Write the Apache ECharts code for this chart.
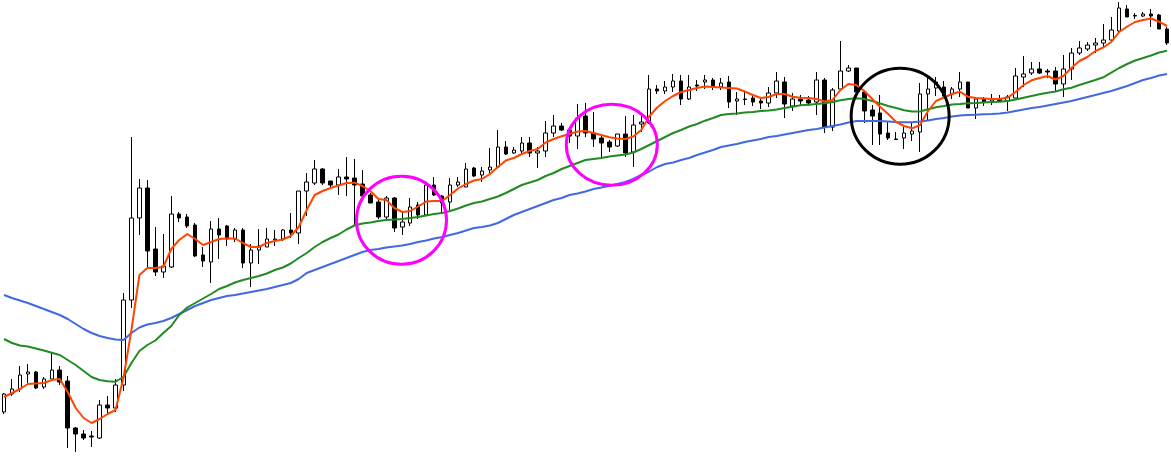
<!DOCTYPE html>
<html>
<head>
<meta charset="utf-8">
<script src="https://cdn.jsdelivr.net/npm/echarts@6/dist/echarts.min.js"></script>
<style>html,body{margin:0;padding:0;background:#fff;}#c{width:1171px;height:463px;}</style>
</head>
<body>
<div id="c"></div>
<script>
// Price values in points (higher = higher price). Candle order: open, close, low, high
const opens  = [51,69,74,89,91,76,84,93,82,35,29,27,25,58,55,78,163,245,275,214,191,196,249,246,238,208,201,234,237,224,
233,200,213,216,223,224,233,230,272,280,294,282,278,286,285,279,268,261,246,265,236,240,258,248,278,267,261,278,276,295,
288,293,296,316,310,312,320,310,312,330,337,333,327,347,330,325,321,317,329,311,339,340,374,372,376,382,364,378,381,
383,376,381,362,364,365,362,360,370,381,357,364,363,361,383,336,374,392,395,371,353,350,330,324,325,329,331,369,375,
376,369,374,381,355,364,362,364,362,365,386,390,394,392,392,379,394,410,414,418,420,423,432,454,447.5,447,449,448,434];
const closes = [69,74,88,91,75,84,93,81,35,29,25,26,58,55,78,163,245,275,212,191,197,249,245,237,207,202,234,228,224,233,
200,213,217,224,224,233,230,272,281,294,280,278,286,284,278,267,260,246,265,235,241,256,248,278,268,260,278,281,294,287,
292,296,316,309,313,320,310,312,330,337,333,327,345,330,324,320,316,329,310,338,341,374,372,376,382,364,376,377,383,
376,380,361,364,363.5,361,360,370,382,359,364,362,360,383,336,373,392,395,371,352,347,329,325,323.5,330,332,369,374,381,
367,374,381,355,364,361,364,362.5,366,387,389,394,390,391,379,394,410,415,418,420,423,433,455,446,447,449,447,434,420];
const lows   = [49,67,71,80,74,74,83,78,15,11,23,16,24,49,51,72,155,228,195,187,185,195,241,235,206,196,180,204,217,221,
195,176,199,216,217,222,225,219,247,278,278,275,268,267,238,265,260,244,244,231,228,237,244,247,267,249,253,276,276,286,
281,290,295,308,309,310,306,295,306,326,332,320,314,326,316,305,311,316,306,296,331,339,369,369,371,358,363,372,374,
373,373,355,348,358,357,354,356,365,345,352,358,357,348,330,332,373,391,371,340,318,318,323,323,314,322,311,343,367,
365,364,366,355,344,357,358,361,352,365,376,388,389,385,371,366,383,408,412,410,415,422,430,446,444,446,436,434,418];
const highs  = [70,84,97,99,92,86,110,97,87,36,33,32,63,67,84,170,326,284,283,236,229,267,251,249,240,216,242,245,238,235,
235,219,234,235,233,234,250,272,290,303,295,282,294,306,304,293,270,265,267,266,250,265,261,282,286,268,285,286,300,296,
296,315,333,322,316,326,326,316,342,348,340,335,359,360,351,327,323,329,347,348,348,388,378,382,389,388,388,383,388,
385,385,387,371,371,367,364,376,391,386,370,368,367,391,385,375,422,398,395,373,358,368,341,331,336,340,380,385,386,
382,376,391,381,366,366,369,368,368,395,407,401,401,394,396,408,415,422,421,425,439,446,461,458,450,451,454,449,436];
// Moving averages
const maFast = [66,70,74,79,79.5,80,83,84,71,55,45,40,44,49,53,85,133,188,195,195,196,214,223,229,224,218,221,224,224.5,224.5,
220,216,216,220,222,223.5,227,236,253,268,272,275,277.5,280,280.3,277,272,264,263,255,251,252,256.5,261.5,262,262,268,274.5,279,282.5,
284,289,296,302.5,305,309,312,314,320.5,324,326.7,329,331.5,332,330,328,325.7,324.5,324,326.5,333,346.5,355.5,362,367,371,373,375,376.5,
376,375.5,375,374.5,371.5,368,365,366,369,369,366.3,365.3,365,364,361.5,363,373,379,378,372,364,356,349,341,337,334.7,338,352,362,
365.5,369,371.3,366.3,365,364.5,364,364,365.5,371,378,382.7,385,387,383.5,387,395,402,406,412,415.5,421,431,436.5,441,443,444.5,441.3,437];
const maMid = [124,120,117.5,116.5,114.5,112.5,110.3,108,103,98,92,86,83,81.7,81.3,86,100,112,118,122.5,130,137,148,155.5,160,164.5,169,174,177,180.5,
183,185,187,189.5,193,195.5,199.5,205,210,216,221,225,228.5,233.5,237.5,239.5,240.5,242,243,243.5,244,245,246,247.5,249,250,252,254.5,257.5,260,
261.5,264,266.5,270,274,278,280.5,283,287,290,294,297,300,303,304,305,306.5,307.5,308.5,310.5,314,318,322,326,330,333,336.5,339,342.3,
345,348,349,349.5,350.5,351,352,352.5,353.5,355,356.3,357.7,358.3,359,359.7,361,362.7,364,364.7,364,362,359.5,357,355,352.7,351.5,351.5,353.7,355.8,
357,358.5,359,359.7,360,360.5,361,361.3,362,363.5,365.3,367,368.7,370.3,371.5,373.7,375.3,378,380.5,383,385.7,390.3,395,399,402.5,405,407.5,410.5,412.3];
const maSlow = [168,165,162.5,160,157,154,151,148,144,139,134,130,127,125,123.5,123,130,135.5,138.5,140,142,145,149,153,157,160,163,165,167,168,
169.5,171,172.5,174,176,178,180,184,190,193,196,199,202,205,208,211,213,214,215.5,216.5,217.5,219,221,222.5,224.5,226,228,230,232.5,235,
236,237.5,240,244,248,251,254,257,260,263,265,268,269.5,271.5,274,275.5,277.3,279,281,284,288,291.5,296,299,300.5,303,305,308,310.5,
313,316,317.5,319,321,322.5,324,326,327,328.5,330,331.5,333,334,335.5,337,338.5,340.5,342,342,342,342,341.5,341,340.7,340.7,341.5,342.5,344,
345,346.5,347.5,348,348.3,348.7,349,349.5,350.5,352,353.5,355,356,357.5,359,360.5,362,364,366,368,370,372,374.5,377,380,383,385,387.5,389];
const categories = opens.map((_, i) => 'bar ' + (i + 1));
// Highlight rings: [bar index, price, colour]
const rings = [[49.9, 242.7, '#ff00ff'], [76.3, 318.3, '#ff00ff'], [112.5, 346.8, '#000000']];
const ringRadii = [[45, 44], [45.5, 40.5], [49, 48]];

const candles = opens.map((o, i) => [o, closes[i], lows[i], highs[i]]);
const chart = echarts.init(document.getElementById('c'), null, {renderer: 'canvas'});
const lineStyleOf = (c) => ({color: c, width: 2});
chart.setOption({
  animation: false,
  backgroundColor: '#ffffff',
  grid: {left: -1.7, right: -3.3, top: 0, bottom: 0},
  xAxis: {type: 'category', data: categories, show: false, boundaryGap: true},
  yAxis: {type: 'value', min: 0, max: 463, show: false},
  series: [
    {type: 'candlestick', data: candles, barWidth: 4, z: 2,
     itemStyle: {color: '#ffffff', color0: '#000000', borderColor: '#000000', borderColor0: '#000000', borderWidth: 1}},
    {type: 'line', data: maSlow, showSymbol: false, symbol: 'none', lineStyle: lineStyleOf('#4169e1'), z: 3},
    {type: 'line', data: maMid, showSymbol: false, symbol: 'none', lineStyle: lineStyleOf('#228b22'), z: 3},
    {type: 'line', data: maFast, showSymbol: false, symbol: 'none', lineStyle: lineStyleOf('#ff4500'), z: 3}
  ]
});
const p0 = chart.convertToPixel({xAxisIndex: 0}, 0);
const p1 = chart.convertToPixel({xAxisIndex: 0}, 1);
const graphics = rings.map((r, k) => ({
  type: 'ellipse', z: 100,
  shape: {cx: p0 + r[0] * (p1 - p0), cy: chart.convertToPixel({yAxisIndex: 0}, r[1]), rx: ringRadii[k][0], ry: ringRadii[k][1]},
  style: {fill: 'none', stroke: r[2], lineWidth: 3}
}));
chart.setOption({graphic: graphics});
</script>
</body>
</html>
